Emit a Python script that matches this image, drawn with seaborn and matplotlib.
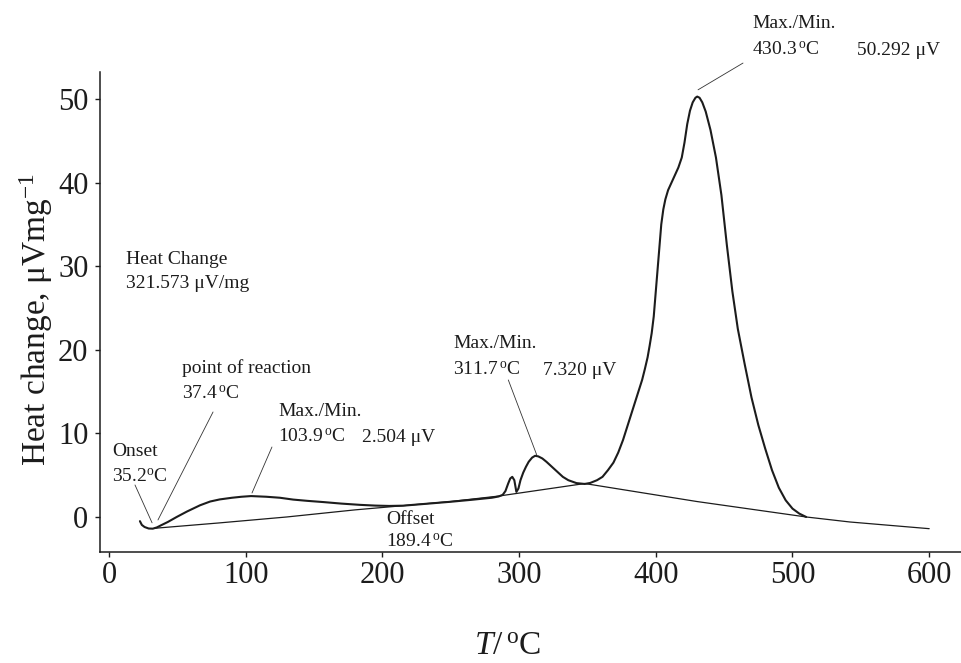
import matplotlib
matplotlib.use("Agg")
import matplotlib.pyplot as plt
import seaborn as sns
import pandas as pd

# ---- data ----
curve_T = [22.6, 24.0, 26.0, 29.0, 32.0, 35.0, 38.0, 43.0, 49.5, 57.0, 66.6, 74.0, 81.0,
           90.0, 97.0, 103.9, 115.0, 125.0, 134.7, 145.0, 157.0, 170.0, 183.6, 195.0, 205.0,
           215.0, 230.0, 250.0, 265.0, 280.0, 285.0, 288.0, 290.0, 292.0, 293.5, 295.0,
           296.5, 298.0, 299.5, 301.0, 303.0, 305.0, 307.0, 309.5, 311.7, 314.0, 317.0,
           320.0, 324.0, 328.0, 332.0, 336.0, 342.0, 348.0, 352.0, 357.0, 361.0, 365.0,
           369.0, 372.5, 376.0, 379.5, 383.0, 386.5, 390.0, 392.0, 394.0, 395.5, 397.0,
           398.5, 399.5, 401.0, 402.0, 403.0, 404.0, 405.5, 407.0, 409.0, 411.5, 414.0,
           416.5, 419.0, 421.0, 423.0, 425.0, 427.0, 429.0, 430.3, 432.0, 434.0, 436.5,
           440.0, 444.0, 448.0, 452.0, 456.0, 460.0, 465.0, 470.0, 475.0, 480.0, 485.0,
           490.0, 495.0, 500.0, 505.0, 510.0]
curve_y = [-0.5, -0.95, -1.2, -1.38, -1.4, -1.25, -1.0, -0.6, 0.0, 0.65, 1.4, 1.85, 2.1,
           2.3, 2.42, 2.5, 2.42, 2.3, 2.08, 1.93, 1.78, 1.6, 1.45, 1.36, 1.32,
           1.35, 1.55, 1.82, 2.05, 2.3, 2.45, 2.65, 3.1, 4.0, 4.6, 4.8,
           4.4, 3.0, 3.4, 4.4, 5.3, 6.0, 6.6, 7.1, 7.32, 7.25, 7.0,
           6.6, 6.0, 5.4, 4.8, 4.4, 4.05, 3.95, 4.07, 4.4, 4.8, 5.6,
           6.5, 7.7, 9.2, 11.0, 12.8, 14.6, 16.4, 17.7, 19.1, 20.5, 22.0,
           24.0, 26.0, 29.0, 31.0, 33.0, 35.0, 36.8, 38.0, 39.1, 40.0, 40.9,
           41.8, 43.0, 44.8, 47.0, 48.6, 49.6, 50.15, 50.29, 50.15, 49.6, 48.5,
           46.3, 43.0, 38.5, 32.5, 27.0, 22.5, 18.3, 14.3, 11.0, 8.2, 5.6,
           3.5, 2.0, 1.0, 0.4, 0.0]

base_T = [33.5, 80.0, 130.0, 180.0, 215.0, 250.0, 285.0, 348.0, 430.0, 510.0, 542.0, 600.0]
base_y = [-1.35, -0.72, 0.0, 0.85, 1.35, 1.85, 2.5, 4.0, 1.85, 0.0, -0.6, -1.4]

x_ticks = [0, 100, 200, 300, 400, 500, 600]
y_ticks = [0, 10, 20, 30, 40, 50]

# annotations: text lines with positions, and leader lines
ann_texts = [
    ("Max./Min.", 470.4, 58.5),
    ("430.3$\\,^{\\rm o}$C", 470.4, 55.26),
    ("50.292 μV", 547.2, 55.26),
    ("Heat Change", 12.4, 30.26),
    ("321.573 μV/mg", 12.4, 27.39),
    ("point of reaction", 53.4, 17.22),
    ("37.4$\\,^{\\rm o}$C", 53.4, 14.11),
    ("Max./Min.", 123.6, 12.08),
    ("103.9$\\,^{\\rm o}$C", 123.6, 8.97),
    ("2.504 μV", 185.1, 8.97),
    ("Onset", 2.2, 7.30),
    ("35.2$^{\\rm o}$C", 2.2, 4.19),
    ("Max./Min.", 251.6, 20.22),
    ("311.7$\\,^{\\rm o}$C", 251.6, 16.99),
    ("7.320 μV", 317.5, 16.99),
    ("Offset", 202.6, -0.84),
    ("189.4$\\,^{\\rm o}$C", 202.6, -3.59),
]
leader_x = [(19.0, 31.5), (76.1, 35.8), (119.2, 104.6), (292.1, 312.9), (463.8, 430.9)]
leader_y = [(3.83, -0.7), (12.56, -0.36), (8.37, 2.87), (16.39, 7.42), (54.3, 51.1)]

# ---- style ----
sns.set_theme(style="ticks")
plt.rcParams["font.family"] = ["Liberation Serif", "DejaVu Serif"]
plt.rcParams["mathtext.fontset"] = "custom"
plt.rcParams["mathtext.rm"] = "Liberation Serif"
plt.rcParams["mathtext.it"] = "Liberation Serif:italic"
plt.rcParams["mathtext.bf"] = "Liberation Serif:bold"

fig = plt.figure(figsize=(9.62, 6.63), dpi=100)
ax = fig.add_axes([100 / 962, 111 / 663, 862 / 962, 480 / 663])

ink = "#1c1c1c"
df_curve = pd.DataFrame({"T": curve_T, "y": curve_y})
df_base = pd.DataFrame({"T": base_T, "y": base_y})
sns.lineplot(data=df_base, x="T", y="y", sort=False, estimator=None, color=ink, lw=0.9, ax=ax)
sns.lineplot(data=df_curve, x="T", y="y", sort=False, estimator=None, color=ink, lw=1.5, ax=ax)

for (x0, x1), (y0, y1) in zip(leader_x, leader_y):
    ax.plot([x0, x1], [y0, y1], color="#333333", lw=0.6, clip_on=False)

for txt, tx, ty in ann_texts:
    ax.text(tx, ty, txt, fontsize=14, color=ink, ha="left", va="baseline", clip_on=False)

ax.set_xlim(-6.6, 624)
ax.set_ylim(-4.19, 53.23)
ax.set_xticks(x_ticks)
ax.set_yticks(y_ticks)
ax.tick_params(axis="both", direction="out", length=3.3, width=1.0, colors=ink, labelsize=22)
ax.tick_params(axis="x", pad=3.5)
ax.tick_params(axis="y", pad=5)

sns.despine(ax=ax)
for s in ("left", "bottom"):
    ax.spines[s].set_linewidth(1.1)
    ax.spines[s].set_color(ink)

ax.set_xlabel("$T$/$\\,^{\\rm o}$C", fontsize=24, color=ink)
ax.set_ylabel("Heat change, μVmg$^{-1}$", fontsize=24, color=ink)
ax.xaxis.set_label_coords(0.473, -0.165)
ax.yaxis.set_label_coords(-0.052, 0.485)

fig.savefig("out.png", dpi=100)
